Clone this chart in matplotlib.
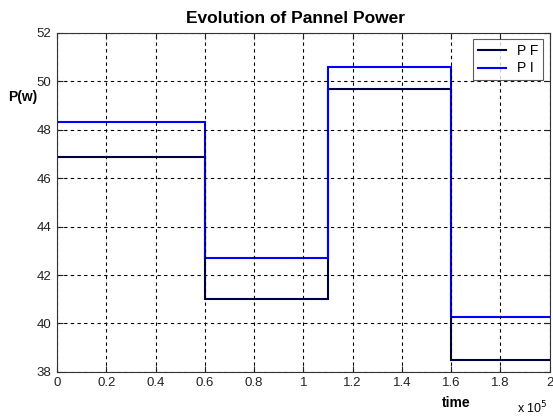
import matplotlib.pyplot as plt
import numpy as np

plt.rcParams["font.family"] = ["Liberation Sans", "DejaVu Sans"]

# step edges (in units of 1e5) and levels
t_edges = [0, 0.6, 1.1, 1.6, 2.0]
pf = [46.88, 41.0, 49.68, 38.5]
pi = [48.3, 42.7, 50.6, 40.25]

fig = plt.figure(figsize=(5.53, 4.16), dpi=100)
ax = fig.add_axes([0.103, 0.106, 0.891, 0.815])

t = np.array(t_edges)
ax.stairs(pf, t, color="#000044", lw=1.5, baseline=None, label="P F")
ax.stairs(pi, t, color="#0000ff", lw=1.5, baseline=None, label="P I")

ax.set_xlim(0, 2)
ax.set_ylim(38, 52)
ax.set_xticks(np.arange(0, 2.01, 0.2))
ax.set_xticklabels(["0", "0.2", "0.4", "0.6", "0.8", "1", "1.2", "1.4", "1.6", "1.8", "2"])
ax.set_yticks(np.arange(38, 52.1, 2))
ax.tick_params(direction="in", labelsize=9.5, length=4, top=True, right=True,
               colors="#222222", pad=4)
ax.grid(True, color="k", linestyle=(0, (3, 3)), lw=0.8)
for s in ax.spines.values():
    s.set_color("#333333")

ax.set_title("Evolution of Pannel Power", fontweight="bold", fontsize=12.5, pad=7,
             x=0.485)
fig.text(0.014, 0.757, "P(w)", fontweight="bold", fontsize=10)
fig.text(0.799, 0.022, "time", fontweight="bold", fontsize=10)
fig.text(0.934, 0.006, r"x 10$^5$", fontsize=9)

leg = ax.legend(loc="upper right", fancybox=False, edgecolor="#333333",
                fontsize=10, handlelength=2.0, borderaxespad=0.45,
                labelspacing=0.25, borderpad=0.35, handletextpad=0.8)
leg.get_frame().set_linewidth(0.8)

fig.savefig("out.png")
